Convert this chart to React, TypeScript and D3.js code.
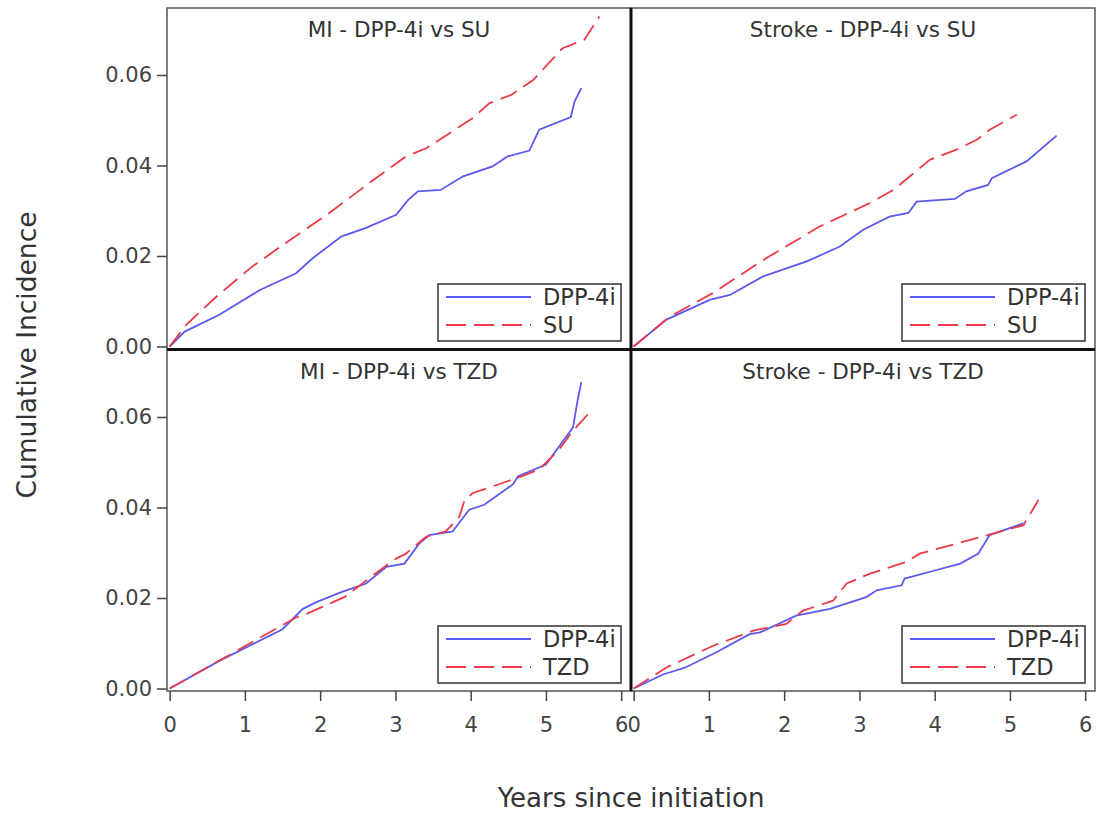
import * as d3 from "d3";
import { useEffect, useRef } from "react";

type Pt = [number, number];

// years since initiation, cumulative incidence
const miSuDpp: Pt[] = [
  [0, 0], [0.2, 0.0033], [0.66, 0.007], [1.2, 0.0125], [1.68, 0.0162], [1.9, 0.0195],
  [2.28, 0.0243], [2.61, 0.0262], [3.01, 0.0291], [3.17, 0.0324], [3.3, 0.0343],
  [3.6, 0.0346], [3.9, 0.0376], [4.29, 0.0398], [4.49, 0.042], [4.78, 0.0433],
  [4.91, 0.0479], [5.33, 0.0507], [5.38, 0.0541], [5.47, 0.0571],
];
const miSuSu: Pt[] = [
  [0, 0], [0.22, 0.0048], [0.62, 0.011], [1.1, 0.0177], [1.64, 0.024], [2.12, 0.0295],
  [2.74, 0.0372], [3.14, 0.042], [3.41, 0.0438], [4.03, 0.0505], [4.25, 0.0538],
  [4.54, 0.0556], [4.83, 0.0589], [5.22, 0.0659], [5.51, 0.0678], [5.71, 0.0729],
];
const strokeSuDpp: Pt[] = [
  [0, 0], [0.43, 0.0059], [1.01, 0.0103], [1.28, 0.0114], [1.72, 0.0155], [2.3, 0.0188],
  [2.74, 0.0221], [3.05, 0.0258], [3.4, 0.0287], [3.65, 0.0295], [3.76, 0.032],
  [4.27, 0.0326], [4.42, 0.0343], [4.71, 0.0357], [4.76, 0.0372], [5.22, 0.0409],
  [5.62, 0.0466],
];
const strokeSuSu: Pt[] = [
  [0, 0], [0.48, 0.0066], [1.05, 0.0118], [1.76, 0.0195], [2.47, 0.0265], [3.14, 0.0317],
  [3.45, 0.0346], [3.94, 0.0413], [4.29, 0.0435], [4.56, 0.0457], [4.73, 0.0479],
  [5.09, 0.0512],
];
const miTzdDpp: Pt[] = [
  [0, 0], [0.66, 0.0061], [1.5, 0.0131], [1.77, 0.0176], [1.95, 0.0191], [2.28, 0.0213],
  [2.61, 0.0232], [2.88, 0.0269], [3.12, 0.0276], [3.32, 0.0321], [3.45, 0.0339],
  [3.76, 0.0347], [3.98, 0.0395], [4.18, 0.0406], [4.56, 0.0451], [4.63, 0.0469],
  [5.0, 0.0495], [5.36, 0.0577], [5.42, 0.0636], [5.47, 0.0677],
];
const miTzdTzd: Pt[] = [
  [0, 0], [1.68, 0.0157], [1.82, 0.0165], [2.32, 0.0202], [2.88, 0.0272], [3.01, 0.0287],
  [3.14, 0.0298], [3.41, 0.0336], [3.67, 0.0347], [3.85, 0.038], [3.92, 0.0417],
  [4.03, 0.0432], [4.63, 0.0466], [4.91, 0.0484], [5.18, 0.0529], [5.36, 0.057],
  [5.58, 0.061],
];
const strokeTzdDpp: Pt[] = [
  [0, 0], [0.39, 0.0031], [0.68, 0.0046], [1.1, 0.008], [1.54, 0.012], [1.68, 0.0124],
  [2.16, 0.0161], [2.61, 0.0176], [3.09, 0.0202], [3.23, 0.0217], [3.56, 0.0228],
  [3.6, 0.0243], [3.94, 0.0258], [4.34, 0.0276], [4.58, 0.0298], [4.73, 0.0339],
  [5.18, 0.0365],
];
const strokeTzdTzd: Pt[] = [
  [0, 0], [0.43, 0.0046], [1.05, 0.0094], [1.59, 0.0128], [2.03, 0.0143], [2.25, 0.0172],
  [2.65, 0.0194], [2.83, 0.0232], [3.14, 0.0254], [3.63, 0.028], [3.8, 0.0298],
  [4.64, 0.0336], [5.18, 0.0361], [5.38, 0.0417],
];

const titles = ["MI - DPP-4i vs SU", "Stroke - DPP-4i vs SU", "MI - DPP-4i vs TZD", "Stroke - DPP-4i vs TZD"];
const comparators = ["SU", "SU", "TZD", "TZD"];
const dppSeries = [miSuDpp, strokeSuDpp, miTzdDpp, strokeTzdDpp];
const otherSeries = [miSuSu, strokeSuSu, miTzdTzd, strokeTzdTzd];
const xTicks = [0, 1, 2, 3, 4, 5, 6];
const yTicks = [0, 0.02, 0.04, 0.06];

const BLUE = "#5a5af0";
const RED = "#ec3a48";
const FONT = "DejaVu Sans, Verdana, sans-serif";

const App = () => {
  const svgRef = useRef<SVGSVGElement>(null);

  useEffect(() => {
    const svg = d3.select(svgRef.current);
    svg.selectAll("*").remove();

    const left = 167;
    const top = 8;
    const pw = 464;
    const ph = 341;

    const x = d3.scaleLinear().domain([-0.035, 6.13]).range([0, pw]);
    const y = d3.scaleLinear().domain([-0.00055, 0.0748]).range([ph, 0]);

    const line = d3
      .line<Pt>()
      .x((d) => x(d[0]))
      .y((d) => y(d[1]));

    titles.forEach((title, i) => {
      const col = i % 2;
      const row = Math.floor(i / 2);
      const g = svg
        .append("g")
        .attr("transform", `translate(${left + col * pw}, ${top + row * (ph + 1)})`);

      g.append("clipPath")
        .attr("id", `clip${i}`)
        .append("rect")
        .attr("width", pw)
        .attr("height", ph);

      g.append("rect")
        .attr("width", pw)
        .attr("height", ph)
        .attr("fill", "white")
        .attr("stroke", "#555")
        .attr("stroke-width", 1.5);

      g.append("text")
        .attr("x", pw / 2)
        .attr("y", 29)
        .attr("text-anchor", "middle")
        .attr("font-family", FONT)
        .attr("font-size", 21.5)
        .attr("fill", "#333")
        .text(title);

      const plot = g.append("g").attr("clip-path", `url(#clip${i})`);
      plot
        .append("path")
        .attr("d", line(dppSeries[i]))
        .attr("fill", "none")
        .attr("stroke", BLUE)
        .attr("stroke-width", 1.8);
      plot
        .append("path")
        .attr("d", line(otherSeries[i]))
        .attr("fill", "none")
        .attr("stroke", RED)
        .attr("stroke-width", 1.8)
        .attr("stroke-dasharray", "18 8");

      // legend
      const lg = g.append("g").attr("transform", `translate(271, ${ph - 65})`);
      lg.append("rect")
        .attr("width", 183)
        .attr("height", 57)
        .attr("fill", "white")
        .attr("stroke", "#333")
        .attr("stroke-width", 1.5);
      const items = [
        { label: "DPP-4i", color: BLUE, dash: null as string | null, yy: 13 },
        { label: comparators[i], color: RED, dash: "20 8", yy: 41 },
      ];
      items.forEach((it) => {
        lg.append("line")
          .attr("x1", 8)
          .attr("x2", 93)
          .attr("y1", it.yy)
          .attr("y2", it.yy)
          .attr("stroke", it.color)
          .attr("stroke-width", 1.8)
          .attr("stroke-dasharray", it.dash);
        lg.append("text")
          .attr("x", 105)
          .attr("y", it.yy + 8)
          .attr("font-family", FONT)
          .attr("font-size", 22.5)
          .attr("fill", "#333")
          .text(it.label);
      });

      if (col === 0) {
        const ya = g
          .append("g")
          .call(d3.axisLeft(y).tickValues(yTicks).tickFormat(d3.format(".2f")).tickSize(10).tickPadding(5));
        ya.select(".domain").remove();
        ya.selectAll("line").attr("stroke", "#444").attr("stroke-width", 1.5);
        ya.selectAll("text").attr("font-family", FONT).attr("font-size", 21).attr("fill", "#444");
      }
      if (row === 1) {
        const xa = g
          .append("g")
          .attr("transform", `translate(0, ${ph})`)
          .call(d3.axisBottom(x).tickValues(xTicks).tickFormat(d3.format("d")).tickSize(10).tickPadding(16));
        xa.select(".domain").remove();
        xa.selectAll("line").attr("stroke", "#444").attr("stroke-width", 1.5);
        xa.selectAll("text").attr("font-family", FONT).attr("font-size", 21).attr("fill", "#444");
      }
    });

    // thick dividers between panels
    svg.append("line")
      .attr("x1", left + pw).attr("x2", left + pw)
      .attr("y1", top).attr("y2", top + 2 * ph + 1)
      .attr("stroke", "#111").attr("stroke-width", 3);
    svg.append("line")
      .attr("x1", left).attr("x2", left + 2 * pw)
      .attr("y1", top + ph + 0.5).attr("y2", top + ph + 0.5)
      .attr("stroke", "#111").attr("stroke-width", 3);

    svg.append("text")
      .attr("x", left + pw)
      .attr("y", 807)
      .attr("text-anchor", "middle")
      .attr("font-family", FONT)
      .attr("font-size", 26)
      .attr("fill", "#333")
      .text("Years since initiation");

    svg.append("text")
      .attr("transform", `translate(36, 355) rotate(-90)`)
      .attr("text-anchor", "middle")
      .attr("font-family", FONT)
      .attr("font-size", 26.5)
      .attr("fill", "#333")
      .text("Cumulative Incidence");
  }, []);

  return (
    <svg
      ref={svgRef}
      width={1097}
      height={819}
      style={{ position: "absolute", left: 0, top: 0, background: "white" }}
    ></svg>
  );
};

export default App;
